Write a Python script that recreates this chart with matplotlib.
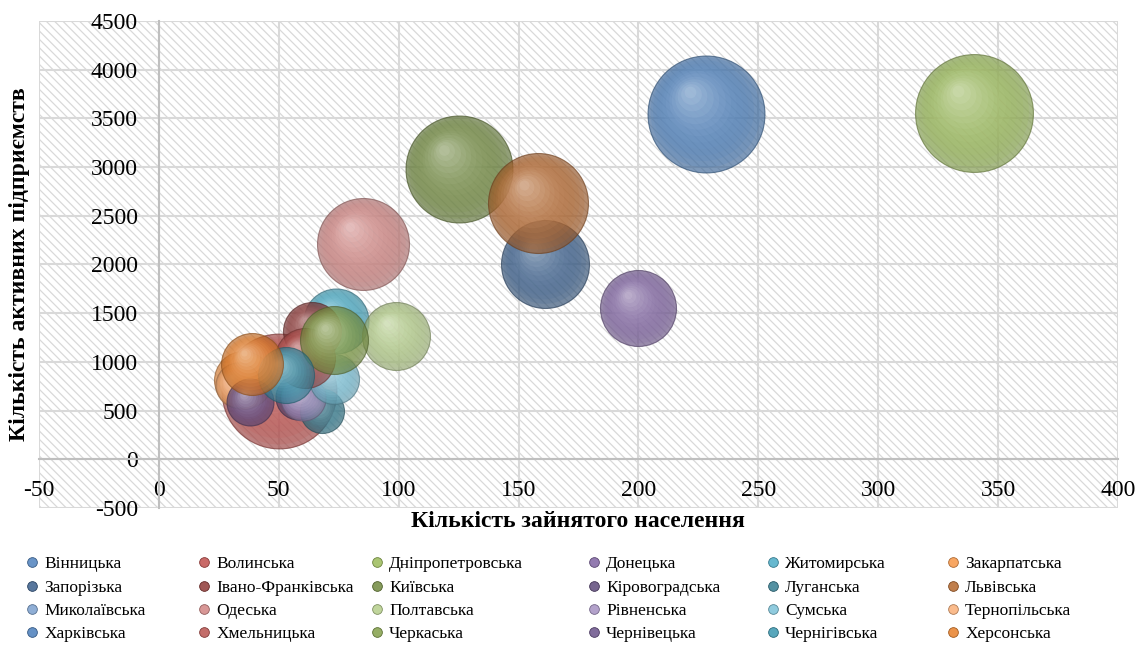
import numpy as np
import matplotlib
matplotlib.use("Agg")
import matplotlib.pyplot as plt
from matplotlib.lines import Line2D
from matplotlib.patches import Rectangle
from matplotlib.transforms import offset_copy
from matplotlib.colors import to_rgb

plt.rcParams['font.family'] = ['Liberation Serif', 'DejaVu Serif']
plt.rcParams['hatch.linewidth'] = 0.9
plt.rcParams['axes.unicode_minus'] = False

# Regions (order of the legend, row by row)
regions = ["Вінницька", "Волинська", "Дніпропетровська", "Донецька", "Житомирська", "Закарпатська",
           "Запорізька", "Івано-Франківська", "Київська", "Кіровоградська", "Луганська", "Львівська",
           "Миколаївська", "Одеська", "Полтавська", "Рівненська", "Сумська", "Тернопільська",
           "Харківська", "Хмельницька", "Черкаська", "Чернівецька", "Чернігівська", "Херсонська"]

# employed population (x), active enterprises (y), bubble size
employed = [55, 50, 340, 200, 74, 35,
            161, 64, 125, 58, 68, 158,
            62, 85, 99, 60, 73, 33,
            228, 61, 73, 38, 53, 39]
enterprises = [900, 700, 3560, 1550, 1420, 810,
               2010, 1320, 2980, 640, 495, 2630,
               1000, 2210, 1270, 630, 820, 760,
               3550, 1040, 1225, 585, 870, 975]
bubble = [200, 1320, 1390, 578, 423, 336,
          774, 336, 1145, 203, 194, 1000,
          250, 846, 462, 203, 250, 203,
          1369, 360, 462, 221, 314, 384]

colors = ["#4F81BD", "#C0504D", "#9BBB59", "#8064A2", "#4BACC6", "#F79646",
          "#3A5F8C", "#8F3A38", "#71893F", "#5E4A7A", "#367E92", "#B5682E",
          "#7BA0CD", "#D18583", "#B5CE8A", "#A592C2", "#7CC2D8", "#F9AF78",
          "#4A7EBB", "#B85350", "#83A04A", "#6A5289", "#3A97B0", "#E8802A"]

x_ticks = np.arange(-50, 401, 50)
y_ticks = np.arange(-500, 4501, 500)


def mix(c, t, target=(1, 1, 1)):
    c = np.array(to_rgb(c))
    return tuple(c + (np.array(target) - c) * t)


fig = plt.figure(figsize=(11.36, 6.61), dpi=100)
ax = fig.add_axes([0.0343, 0.2315, 0.9499, 0.7367])

ax.set_xlim(-50, 400)
ax.set_ylim(-500, 4500)

# hatched plot area
ax.add_patch(Rectangle((0, 0), 1, 1, transform=ax.transAxes, facecolor="white",
                       edgecolor="#d9d9d9", hatch="\\\\\\\\", lw=0, zorder=0))

ax.set_xticks(x_ticks)
ax.set_yticks(y_ticks)
ax.grid(True, color="#d9d9d9", lw=1.5, zorder=1)
ax.set_axisbelow(True)
for s in ["top", "right"]:
    ax.spines[s].set_visible(False)
ax.spines["left"].set_position(("data", 0))
ax.spines["bottom"].set_position(("data", 0))
for s in ["left", "bottom"]:
    ax.spines[s].set_color("#bfbfbf")
    ax.spines[s].set_linewidth(1.5)
    ax.spines[s].set_zorder(1.5)
ax.tick_params(axis="both", length=0, labelsize=17)
ax.tick_params(axis="x", pad=15)
ax.tick_params(axis="y", pad=15)

scale = 5.18
for i, name in enumerate(regions):
    c = colors[i]
    s = bubble[i] * scale
    d = np.sqrt(s)  # diameter in points
    z = 3 + i * 0.1
    xy = ([employed[i]], [enterprises[i]])
    ax.scatter(*xy, s=s, color=mix(c, 0.2, (0, 0, 0)), alpha=0.66,
               edgecolors=mix(c, 0.4, (0, 0, 0)), linewidths=0.8, zorder=z)
    # glossy sphere: lighter layers shifted toward upper left
    for j, k in enumerate(np.linspace(0.94, 0.1, 12)):
        off = (1 - k) * d / 2 * 0.5
        tr = offset_copy(ax.transData, fig=fig, x=-off * 0.6, y=off * 0.8, units="points")
        ax.scatter(*xy, s=(k * d) ** 2, color=mix(c, 0.065 * j),
                   alpha=0.18, lw=0, transform=tr, zorder=z + 0.01)

fig.text(0.509, 0.2103, "Кількість зайнятого населення", ha="center", va="center",
         fontsize=17, fontweight="bold")
fig.text(0.0176, 0.600, "Кількість активних підприємств", ha="center", va="center",
         rotation=90, fontsize=17, fontweight="bold")

# legend: six columns, four rows
col_x = [32, 204, 377, 594, 773, 953]
row_top = 567
fs = 12.5
for col in range(6):
    handles, labels = [], []
    for row in range(4):
        i = row * 6 + col
        handles.append(Line2D([], [], ls="", marker="o", markersize=7,
                              markerfacecolor=mix(colors[i], 0.15),
                              markeredgecolor=mix(colors[i], 0.3, (0, 0, 0)), markeredgewidth=0.6))
        labels.append(regions[i])
    x0 = (col_x[col] - 0.4 * fs * 100 / 72) / 1136
    fig.legend(handles, labels, loc="upper left", bbox_to_anchor=(x0, 1 - (row_top - 11) / 661),
               frameon=False, fontsize=fs, handlelength=0.8, handletextpad=0.3,
               labelspacing=0.42, borderpad=0, borderaxespad=0)

fig.savefig("out.png", dpi=100)
